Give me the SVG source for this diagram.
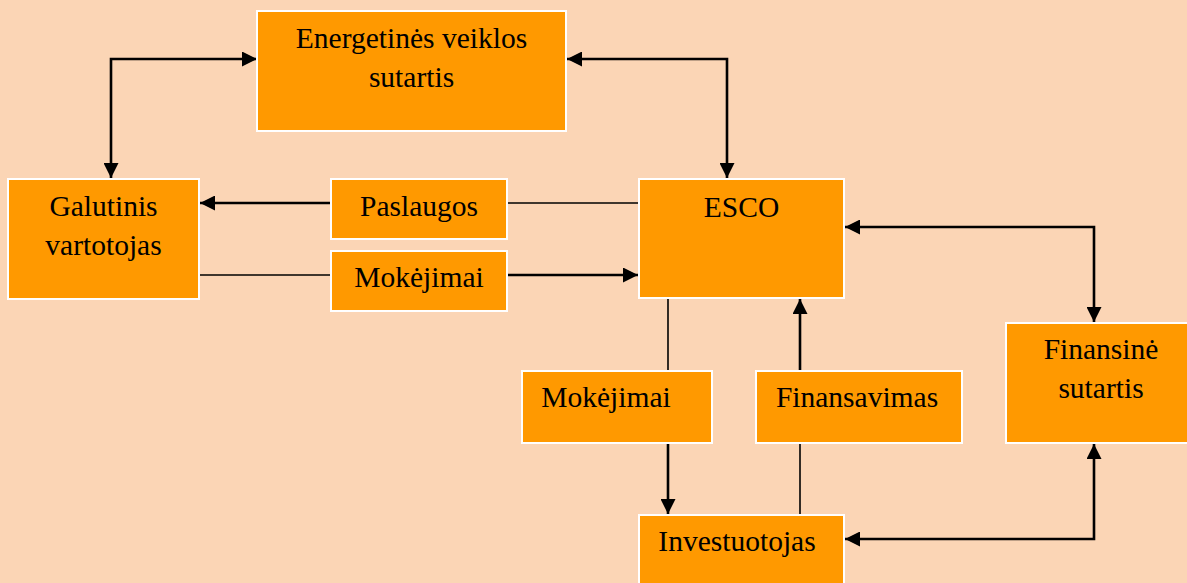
<svg xmlns="http://www.w3.org/2000/svg" width="1187" height="583" viewBox="0 0 1187 583">
<style>
.box{fill:#FF9900;stroke:#FFFFFF;stroke-width:2}
.t{font-family:"Liberation Serif","Times New Roman",serif;font-size:29.5px;fill:#000;text-anchor:middle}
.thick{fill:none;stroke:#000;stroke-width:2.6}
.thin{fill:none;stroke:#000;stroke-width:1.6}
</style>
<defs>
<marker id="ah" markerUnits="userSpaceOnUse" markerWidth="15" markerHeight="15" refX="15" refY="7.5" orient="auto-start-reverse">
<path d="M0,0 L15,7.5 L0,15 z" fill="#000"/>
</marker>
</defs>
<rect x="0" y="0" width="1187" height="583" fill="#FBD5B5"/>
<g id="connectors">
<path class="thick" d="M257,59 H111 V178" marker-start="url(#ah)" marker-end="url(#ah)"/>
<path class="thick" d="M567,59 H727 V178" marker-start="url(#ah)" marker-end="url(#ah)"/>
<path class="thick" d="M845,227 H1094 V322" marker-start="url(#ah)" marker-end="url(#ah)"/>
<path class="thick" d="M845,539 H1094 V444" marker-start="url(#ah)" marker-end="url(#ah)"/>
<path class="thick" d="M331,203 H200" marker-end="url(#ah)"/>
<path class="thin" d="M507,203 H639"/>
<path class="thin" d="M199,275 H331"/>
<path class="thick" d="M507,275 H638" marker-end="url(#ah)"/>
<path class="thin" d="M668,298 V371"/>
<path class="thick" d="M668,443 V514" marker-end="url(#ah)"/>
<path class="thin" d="M800,515 V443"/>
<path class="thick" d="M800,371 V299" marker-end="url(#ah)"/>
</g>
<g id="energetines">
<rect class="box" x="257" y="11" width="309" height="120"/>
<text class="t" x="411.5" y="48">Energetinės veiklos</text>
<text class="t" x="411.5" y="87">sutartis</text>
</g>
<g id="galutinis">
<rect class="box" x="8" y="179" width="191" height="120"/>
<text class="t" x="103.5" y="216">Galutinis</text>
<text class="t" x="103.5" y="255">vartotojas</text>
</g>
<g id="paslaugos">
<rect class="box" x="331" y="179" width="176" height="60"/>
<text class="t" x="419" y="216">Paslaugos</text>
</g>
<g id="mokejimai1">
<rect class="box" x="331" y="251" width="176" height="60"/>
<text class="t" x="419" y="287">Mokėjimai</text>
</g>
<g id="esco">
<rect class="box" x="639" y="179" width="205" height="119"/>
<text class="t" x="741.5" y="217">ESCO</text>
</g>
<g id="finansine">
<rect class="box" x="1006" y="323" width="190" height="120"/>
<text class="t" x="1101" y="359">Finansinė</text>
<text class="t" x="1101" y="398">sutartis</text>
</g>
<g id="mokejimai2">
<rect class="box" x="522" y="371" width="190" height="72"/>
<text class="t" x="606" y="407">Mokėjimai</text>
</g>
<g id="finansavimas">
<rect class="box" x="756" y="371" width="206" height="72"/>
<text class="t" x="857" y="407">Finansavimas</text>
</g>
<g id="investuotojas">
<rect class="box" x="639" y="515" width="205" height="120"/>
<text class="t" x="737" y="551">Investuotojas</text>
</g>
</svg>
